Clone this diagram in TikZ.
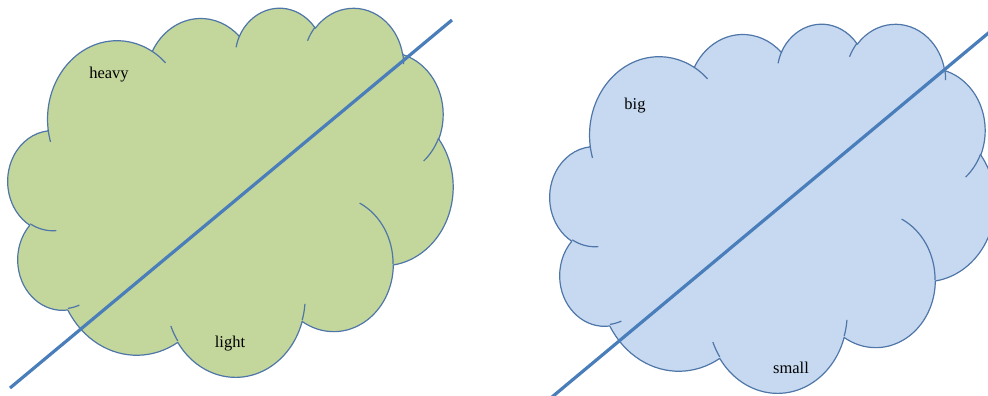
\documentclass[tikz,border=0pt]{standalone}
\usepackage{fontspec}
\setmainfont{Liberation Serif}
\usepackage{tikz}

\definecolor{leafgreen}{HTML}{C3D69B}
\definecolor{skyblue}{HTML}{C6D9F1}
\definecolor{cloudline}{HTML}{4F76A8}
\definecolor{cutline}{HTML}{4A7EBB}

% cloud outline, in units of 1/100 of the 43200 frame
\newcommand{\cloudshape}[2]{%
  \begin{scope}[shift={(#1)}, x=1.0301pt, y=-0.8542pt]
    \filldraw[cloudbody, fill=#2] (39.00,143.70)
      foreach \rx/\ry/\s/\w [evaluate=\s as \ta using {vis2par(\s,\rx,\ry)},
                             evaluate=\w as \tb using {vis2par(\s+\w,\rx,\ry)}] in
        {67.53/91.90/-190.48748/123.78053, 53.33/72.67/-144.10238/89.94523,
         43.65/59.45/-145.80792/99.72302,  48.57/65.95/-130.98607/117.24173,
         53.33/72.73/-78.70888/109.02692,  67.75/92.20/-46.26725/130.26900,
         57.85/78.67/0.62502/114.03333,    67.52/92.15/22.45160/115.17255,
         77.20/105.43/66.24263/75.71102,   43.60/59.18/-274.94208/146.73557,
         43.45/59.45/-246.82850/152.51885}
      { arc[x radius=\rx, y radius=\ry, start angle=\ta, end angle=\tb] } -- cycle;
    % inner folds
    \draw[cloudbody] foreach \px/\py/\rx/\ry/\s/\w
                             [evaluate=\s as \ta using {vis2par(\s,\rx,\ry)},
                              evaluate=\w as \tb using {vis2par(\s+\w,\rx,\ry)}] in
        {46.93/261.77/43.45/59.45/86.742/26.4295,
         69.28/348.99/43.60/59.18/73.61047/11.44747,
         164.78/390.90/67.52/92.15/137.62415/14.0811,
         288.27/347.51/67.53/91.90/6.45327/15.99835,
         341.29/229.54/57.85/78.67/-70.29235/70.91737,
         417.98/153.54/53.33/72.73/30.31803/27.7515,
         383.24/54.26/48.57/65.95/-13.74433/14.8589,
         290.78/39.52/48.57/65.95/-149.18145/18.19537,
         221.41/47.20/43.65/59.45/-163.49427/17.68635,
         140.00/51.92/67.53/91.90/-66.70695/12.31935,
         41.27/157.89/67.53/91.90/157.65435/11.85817}
      { (\px,\py) arc[x radius=\rx, y radius=\ry, start angle=\ta, end angle=\tb] };
  \end{scope}%
}

\begin{document}
\begin{tikzpicture}[
    x=1pt, y=-1pt,
    declare function={vis2par(\a,\p,\q)=\a+mod(atan2(\p*sin(\a),\q*cos(\a))-\a+540,360)-180;},
    cloudbody/.style={draw=cloudline, line width=1.2pt, line join=round},
    cut/.style={draw=cutline, line width=3.2pt},
    word/.style={anchor=base, font=\fontsize{16.5}{19}\selectfont}
]
\useasboundingbox (0,0) rectangle (988,396);
\clip (0,0) rectangle (988,396);

% Left cloud
\cloudshape{8,7}{leafgreen}
\coordinate (gstart) at (10,388);
\coordinate (gend)   at (452,20);
\draw[cut] (gstart) -- (gend);
\node[word] (heavy) at (109,78)  {heavy};
\node[word] (light) at (230,347) {light};

% Right cloud
\cloudshape{550,23}{skyblue}
\coordinate (bstart) at (552,397);
\coordinate (bend)   at (992,30);
\draw[cut] (bstart) -- (bend);
\node[word] (big)   at (635,110) {big};
\node[word] (small) at (791,373) {small};

\end{tikzpicture}
\end{document}
